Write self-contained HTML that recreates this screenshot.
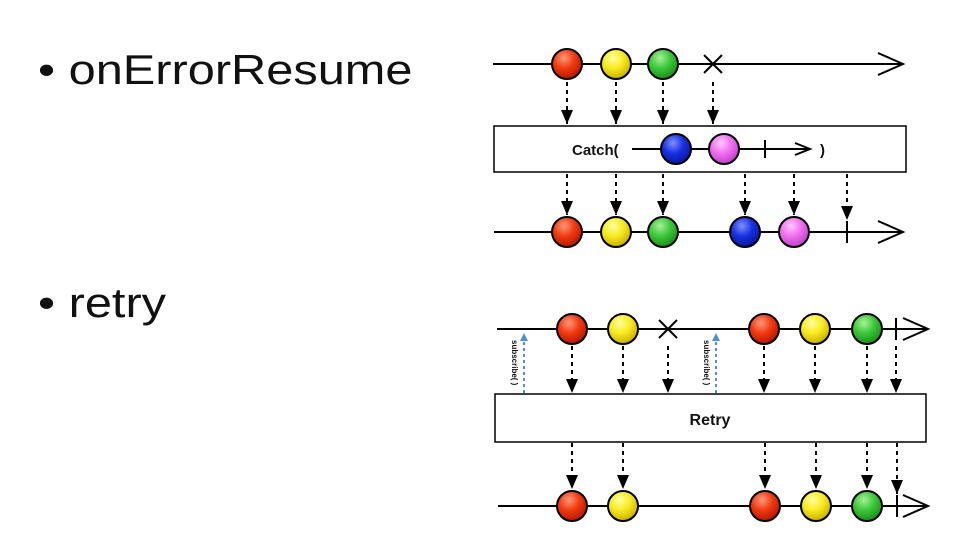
<!DOCTYPE html>
<html><head><style>
body{margin:0;width:980px;height:542px;background:#fff;overflow:hidden;position:relative;font-family:"Liberation Sans",sans-serif}
.b{position:absolute;left:38px;font-size:42px;color:#111;transform:scaleX(1.16);transform-origin:0 0;white-space:nowrap}
</style></head><body>
<div class="b" style="top:46px">• onErrorResume</div>
<div class="b" style="top:279px">• retry</div>
<svg width="980" height="542" style="position:absolute;left:0;top:0">
<defs>
<radialGradient id="r" cx="40%" cy="30%" r="70%"><stop offset="0" stop-color="#ff9a7a"/><stop offset=".5" stop-color="#f03a10"/><stop offset="1" stop-color="#b81800"/></radialGradient>
<radialGradient id="y" cx="40%" cy="30%" r="70%"><stop offset="0" stop-color="#ffffa0"/><stop offset=".5" stop-color="#f8ea20"/><stop offset="1" stop-color="#c8b000"/></radialGradient>
<radialGradient id="g" cx="40%" cy="30%" r="70%"><stop offset="0" stop-color="#a8f098"/><stop offset=".5" stop-color="#3cc83a"/><stop offset="1" stop-color="#1a9018"/></radialGradient>
<radialGradient id="bl" cx="40%" cy="30%" r="70%"><stop offset="0" stop-color="#8090ff"/><stop offset=".5" stop-color="#1830e0"/><stop offset="1" stop-color="#0818a0"/></radialGradient>
<radialGradient id="p" cx="40%" cy="30%" r="70%"><stop offset="0" stop-color="#ffc8ff"/><stop offset=".5" stop-color="#f070f0"/><stop offset="1" stop-color="#c040c8"/></radialGradient>
<marker id="ah" markerWidth="12" markerHeight="14" refX="6" refY="14" orient="0" markerUnits="userSpaceOnUse"><path d="M0,0 L12,0 L6,14Z" fill="#000"/></marker>
<marker id="bh" markerWidth="8" markerHeight="8" refX="4" refY="0" orient="0" markerUnits="userSpaceOnUse"><path d="M0,8 L4,0 L8,8Z" fill="#4a90e0"/></marker>
</defs>
<g stroke="#000" stroke-width="2" fill="none">
<line x1="493" y1="64" x2="903" y2="64"/><path d="M878,53 L903,64 L878,75"/>
<path d="M704,55 L722,73 M722,55 L704,73"/>
<line x1="494" y1="232" x2="903" y2="232"/><path d="M878,221 L903,232 L878,243"/>
<line x1="847" y1="221" x2="847" y2="243"/>
<rect x="494" y="126" width="412" height="46" fill="#fff" stroke-width="1.5"/>
<line x1="632" y1="149" x2="810" y2="149"/><path d="M795,143 L810,149 L795,155"/><line x1="765" y1="140" x2="765" y2="158"/>
<line x1="497" y1="329" x2="928" y2="329"/><path d="M903,318 L928,329 L903,340"/><line x1="896" y1="318" x2="896" y2="340"/>
<path d="M659,320 L677,338 M677,320 L659,338"/>
<rect x="495" y="394" width="431" height="48" fill="#fff" stroke-width="1.5"/>
<line x1="498" y1="506" x2="928" y2="506"/><path d="M903,495 L928,506 L903,517"/><line x1="897" y1="495" x2="897" y2="517"/>
</g>
<g stroke="#000" stroke-width="2" stroke-dasharray="4,4" marker-end="url(#ah)">
<line x1="567" y1="82" x2="567" y2="124"/><line x1="616" y1="82" x2="616" y2="124"/><line x1="663" y1="82" x2="663" y2="124"/><line x1="713" y1="82" x2="713" y2="124"/>
<line x1="567" y1="174" x2="567" y2="215"/><line x1="616" y1="174" x2="616" y2="215"/><line x1="663" y1="174" x2="663" y2="215"/><line x1="745" y1="174" x2="745" y2="215"/><line x1="794" y1="174" x2="794" y2="215"/><line x1="847" y1="174" x2="847" y2="220"/>
<line x1="572" y1="346" x2="572" y2="393"/><line x1="623" y1="346" x2="623" y2="393"/><line x1="668" y1="346" x2="668" y2="393"/><line x1="764" y1="346" x2="764" y2="393"/><line x1="815" y1="346" x2="815" y2="393"/><line x1="867" y1="346" x2="867" y2="393"/><line x1="896" y1="346" x2="896" y2="393"/>
<line x1="572" y1="443" x2="572" y2="489"/><line x1="623" y1="443" x2="623" y2="489"/><line x1="765" y1="443" x2="765" y2="489"/><line x1="816" y1="443" x2="816" y2="489"/><line x1="867" y1="443" x2="867" y2="489"/><line x1="897" y1="443" x2="897" y2="494"/>
</g>
<g stroke="#4a90e0" stroke-width="2" stroke-dasharray="3,3" marker-end="url(#bh)">
<line x1="524" y1="393" x2="524" y2="333"/><line x1="716" y1="393" x2="716" y2="333"/>
</g>
<g stroke="#000" stroke-width="2">
<circle cx="567" cy="64" r="15" fill="url(#r)"/><circle cx="616" cy="64" r="15" fill="url(#y)"/><circle cx="663" cy="64" r="15" fill="url(#g)"/>
<circle cx="676" cy="149" r="15" fill="url(#bl)"/><circle cx="724" cy="149" r="15" fill="url(#p)"/>
<circle cx="567" cy="232" r="15" fill="url(#r)"/><circle cx="616" cy="232" r="15" fill="url(#y)"/><circle cx="663" cy="232" r="15" fill="url(#g)"/><circle cx="745" cy="232" r="15" fill="url(#bl)"/><circle cx="794" cy="232" r="15" fill="url(#p)"/>
<circle cx="572" cy="329" r="15" fill="url(#r)"/><circle cx="623" cy="329" r="15" fill="url(#y)"/><circle cx="764" cy="329" r="15" fill="url(#r)"/><circle cx="815" cy="329" r="15" fill="url(#y)"/><circle cx="867" cy="329" r="15" fill="url(#g)"/>
<circle cx="572" cy="506" r="15" fill="url(#r)"/><circle cx="623" cy="506" r="15" fill="url(#y)"/><circle cx="765" cy="506" r="15" fill="url(#r)"/><circle cx="816" cy="506" r="15" fill="url(#y)"/><circle cx="867" cy="506" r="15" fill="url(#g)"/>
</g>
<g font-family="Liberation Sans, sans-serif" font-weight="bold" fill="#111">
<text x="572" y="155" font-size="15">Catch(</text>
<text x="820" y="155" font-size="15">)</text>
<text x="710" y="425" font-size="16" text-anchor="middle">Retry</text>
<text font-size="8" transform="translate(512,340) rotate(90)">subscribe( )</text>
<text font-size="8" transform="translate(704,340) rotate(90)">subscribe( )</text>
</g>
</svg>
</body></html>
